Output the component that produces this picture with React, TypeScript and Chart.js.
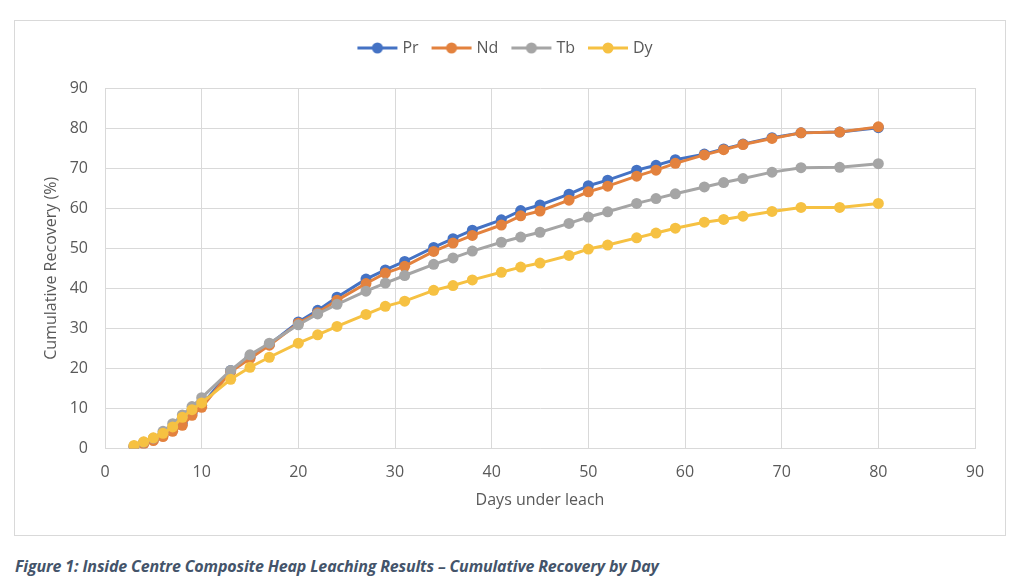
import { useEffect, useRef } from 'react'
import { Chart, registerables, type ChartConfiguration, type LegendItem, type Plugin } from 'chart.js'

Chart.register(...registerables)

const days = [3, 4, 5, 6, 7, 8, 9, 10, 13, 15, 17, 20, 22, 24, 27, 29, 31, 34, 36, 38, 41, 43, 45, 48, 50, 52, 55, 57, 59, 62, 64, 66, 69, 72, 76, 80]

const prValues = [0.6, 1.4, 2.3, 3.4, 4.8, 6.4, 8.8, 10.8, 19.5, 22.8, 26.0, 31.6, 34.5, 37.8, 42.3, 44.6, 46.7, 50.2, 52.4, 54.5, 57.1, 59.4, 60.8, 63.5, 65.6, 67.0, 69.5, 70.7, 72.1, 73.5, 74.8, 76.0, 77.6, 78.8, 79.0, 80.1]
const ndValues = [0.5, 1.2, 2.0, 3.0, 4.3, 5.8, 8.3, 10.3, 19.2, 22.5, 25.8, 31.3, 33.9, 37.0, 41.2, 43.8, 45.5, 49.2, 51.3, 53.2, 55.8, 58.1, 59.3, 62.0, 64.1, 65.5, 68.0, 69.5, 71.2, 73.3, 74.6, 75.9, 77.4, 78.8, 79.0, 80.3]
const tbValues = [0.6, 1.6, 2.6, 4.3, 6.2, 8.4, 10.5, 12.7, 19.5, 23.4, 26.3, 30.9, 33.6, 36.0, 39.3, 41.3, 43.2, 46.0, 47.6, 49.3, 51.5, 52.8, 54.0, 56.2, 57.8, 59.1, 61.2, 62.4, 63.6, 65.3, 66.4, 67.4, 69.0, 70.1, 70.2, 71.1]
const dyValues = [0.8, 1.7, 2.7, 3.8, 5.4, 7.8, 9.7, 11.4, 17.3, 20.3, 22.8, 26.3, 28.4, 30.5, 33.5, 35.5, 36.8, 39.5, 40.7, 42.1, 44.0, 45.3, 46.3, 48.2, 49.8, 50.8, 52.6, 53.8, 55.0, 56.5, 57.2, 58.0, 59.2, 60.2, 60.2, 61.2]

const seriesNames = ['Pr', 'Nd', 'Tb', 'Dy']
const seriesColors = ['#4472C4', '#E3823E', '#A5A5A5', '#F6C142']
const seriesValues = [prValues, ndValues, tbValues, dyValues]

const axisTicks = [0, 10, 20, 30, 40, 50, 60, 70, 80, 90]

const textColor = '#595959'
const gridColor = '#D9D9D9'
const fontFamily = '"Open Sans", "Noto Sans", sans-serif'

// legend icon: short line with a dot in the middle, like Excel
function legendIcon(color: string) {
  const icon = document.createElement('canvas')
  icon.width = 44
  icon.height = 14
  const ctx = icon.getContext('2d')
  if (ctx) {
    ctx.strokeStyle = color
    ctx.lineWidth = 3
    ctx.beginPath()
    ctx.moveTo(2, 7)
    ctx.lineTo(42, 7)
    ctx.stroke()
    ctx.fillStyle = color
    ctx.beginPath()
    ctx.arc(22, 7, 5.5, 0, Math.PI * 2)
    ctx.fill()
  }
  return icon
}

// extra gap under the legend
const legendGap: Plugin<'line'> = {
  id: 'legendGap',
  beforeInit(chart) {
    const legend = chart.legend as any
    if (!legend) return
    const fit = legend.fit
    legend.fit = function () {
      fit.call(this)
      this.height += 22
    }
  },
}

function RecoveryChart() {
  const canvasRef = useRef<HTMLCanvasElement | null>(null)
  const chartRef = useRef<Chart<'line'> | null>(null)

  useEffect(() => {
    const canvas = canvasRef.current
    if (!canvas) {
      return
    }

    if (chartRef.current) {
      chartRef.current.destroy()
    }

    const config: ChartConfiguration<'line'> = {
      type: 'line',
      data: {
        datasets: seriesNames.map((name, i) => ({
          label: name,
          data: days.map((d, j) => ({ x: d, y: seriesValues[i][j] })),
          borderColor: seriesColors[i],
          backgroundColor: seriesColors[i],
          pointBackgroundColor: seriesColors[i],
          pointBorderColor: seriesColors[i],
          borderWidth: 3,
          pointRadius: 5.5,
          pointBorderWidth: 0,
          tension: 0,
          fill: false,
          // later series sit on top, as in the original
          order: seriesNames.length - 1 - i,
        })),
      },
      options: {
        responsive: true,
        maintainAspectRatio: false,
        animation: false,
        layout: {
          padding: { top: 3, left: 23, right: 30, bottom: 21 },
        },
        plugins: {
          tooltip: { enabled: false },
          legend: {
            position: 'top',
            labels: {
              usePointStyle: true,
              pointStyleWidth: 34,
              padding: 16,
              color: textColor,
              font: { family: fontFamily, size: 16 },
              sort: (a: LegendItem, b: LegendItem) => (a.datasetIndex ?? 0) - (b.datasetIndex ?? 0),
              generateLabels: (chart) => {
                const items = Chart.defaults.plugins.legend.labels.generateLabels(chart)
                return items.map((item) => ({
                  ...item,
                  pointStyle: legendIcon(seriesColors[item.datasetIndex ?? 0]),
                }))
              },
            },
          },
        },
        scales: {
          x: {
            type: 'linear',
            min: 0,
            max: 90,
            afterBuildTicks: (scale) => {
              scale.ticks = axisTicks.map((v) => ({ value: v }))
            },
            grid: { color: gridColor, drawTicks: false },
            border: { color: gridColor },
            ticks: {
              color: textColor,
              padding: 14,
              font: { family: fontFamily, size: 16 },
            },
            title: {
              display: true,
              text: 'Days under leach',
              color: textColor,
              font: { family: fontFamily, size: 16 },
              padding: { top: -5, bottom: 4 },
            },
          },
          y: {
            type: 'linear',
            min: 0,
            max: 90,
            afterBuildTicks: (scale) => {
              scale.ticks = axisTicks.map((v) => ({ value: v }))
            },
            afterFit: (scale) => {
              scale.width = 67
            },
            grid: { color: gridColor, drawTicks: false },
            border: { color: gridColor },
            ticks: {
              color: textColor,
              padding: 17,
              font: { family: fontFamily, size: 16 },
            },
            title: {
              display: true,
              text: 'Cumulative Recovery (%)',
              color: textColor,
              font: { family: fontFamily, size: 16 },
              padding: { top: 4, bottom: 8 },
            },
          },
        },
      },
      plugins: [legendGap],
    }

    chartRef.current = new Chart(canvas, config)

    return () => {
      chartRef.current?.destroy()
      chartRef.current = null
    }
  }, [])

  return (
    <div
      style={{
        position: 'absolute',
        left: 14,
        top: 20,
        width: 992,
        height: 516,
        boxSizing: 'border-box',
        border: `1px solid ${gridColor}`,
        background: '#fff',
      }}
    >
      <div style={{ position: 'relative', width: 990, height: 514 }}>
        <canvas ref={canvasRef} role="img" aria-label="Cumulative recovery by day" />
      </div>
    </div>
  )
}

export default function App() {
  return (
    <div>
      <RecoveryChart />
      <div
        style={{
          position: 'absolute',
          left: 15,
          top: 555,
          fontFamily,
          fontSize: 16,
          fontStyle: 'italic',
          fontWeight: 700,
          color: '#44546A',
          whiteSpace: 'nowrap',
          letterSpacing: '-0.15px',
        }}
      >
        Figure 1: Inside Centre Composite Heap Leaching Results – Cumulative Recovery by Day
      </div>
    </div>
  )
}
